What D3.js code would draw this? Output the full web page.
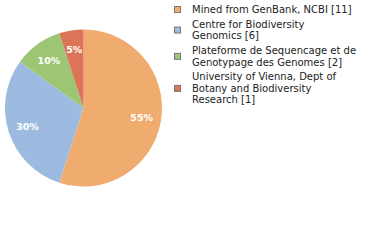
<!DOCTYPE html>
<html>
<head>
<meta charset="utf-8">
<script src="https://cdn.jsdelivr.net/npm/d3@7"></script>
<style>
  body { margin: 0; background: #fff; }
  svg { display: block; font-family: "DejaVu Sans", Verdana, sans-serif; }
</style>
</head>
<body>
<svg id="chart" width="380" height="240"></svg>
<script>
const width = 380;
const height = 240;

const labels = [
  ["Mined from GenBank, NCBI [11]"],
  ["Centre for Biodiversity", "Genomics [6]"],
  ["Plateforme de Sequencage et de", "Genotypage des Genomes [2]"],
  ["University of Vienna, Dept of", "Botany and Biodiversity", "Research [1]"]
];
const counts = [11, 6, 2, 1];
const colors = ['#f0ac6f', '#9dbbe1', '#9dc674', '#dc7558'];

const total = d3.sum(counts);

const svg = d3.select('#chart');

const createPie = () => {
  const radius = 78.5;
  const g = svg.append('g')
               .attr('transform', 'translate(83.5, 108)');

  const pie = d3.pie().sort(null).value((d) => d);
  const arc = d3.arc().innerRadius(0).outerRadius(radius);
  const labelArc = d3.arc().innerRadius(radius * 0.75).outerRadius(radius * 0.75);

  const arcs = pie(counts);

  g.selectAll('path')
   .data(arcs)
   .enter()
   .append('path')
   .attr('d', arc)
   .attr('fill', (d, i) => colors[i]);

  g.selectAll('text')
   .data(arcs)
   .enter()
   .append('text')
   .attr('transform', (d) => 'translate(' + labelArc.centroid(d) + ')')
   .attr('text-anchor', 'middle')
   .attr('dy', '0.35em')
   .attr('fill', '#fff')
   .attr('font-size', 9.5)
   .attr('font-weight', 600)
   .text((d) => Math.round(d.data / total * 100) + '%');
};

const createLegend = () => {
  const lineHeight = 11.5;
  const gap = 3.3;
  let y = 9.5;
  const tops = labels.map((lines) => {
    const t = y;
    y += lines.length * lineHeight + gap;
    return t;
  });

  const items = svg.append('g')
                   .selectAll('g')
                   .data(labels)
                   .enter()
                   .append('g')
                   .attr('transform', (d, i) => 'translate(0,' + tops[i] + ')');

  items.append('rect')
       .attr('x', 174.5)
       .attr('y', (d) => (d.length - 1) * lineHeight / 2 - 3)
       .attr('width', 6)
       .attr('height', 6)
       .attr('fill', (d, i) => colors[i])
       .attr('stroke', '#777')
       .attr('stroke-width', 1);

  items.append('text')
       .attr('font-size', 10)
       .attr('fill', '#222')
       .selectAll('tspan')
       .data((d) => d)
       .enter()
       .append('tspan')
       .attr('x', 192)
       .attr('y', (d, i) => i * lineHeight)
       .attr('dy', '0.35em')
       .text((d) => d);
};

createPie();
createLegend();
</script>
</body>
</html>
